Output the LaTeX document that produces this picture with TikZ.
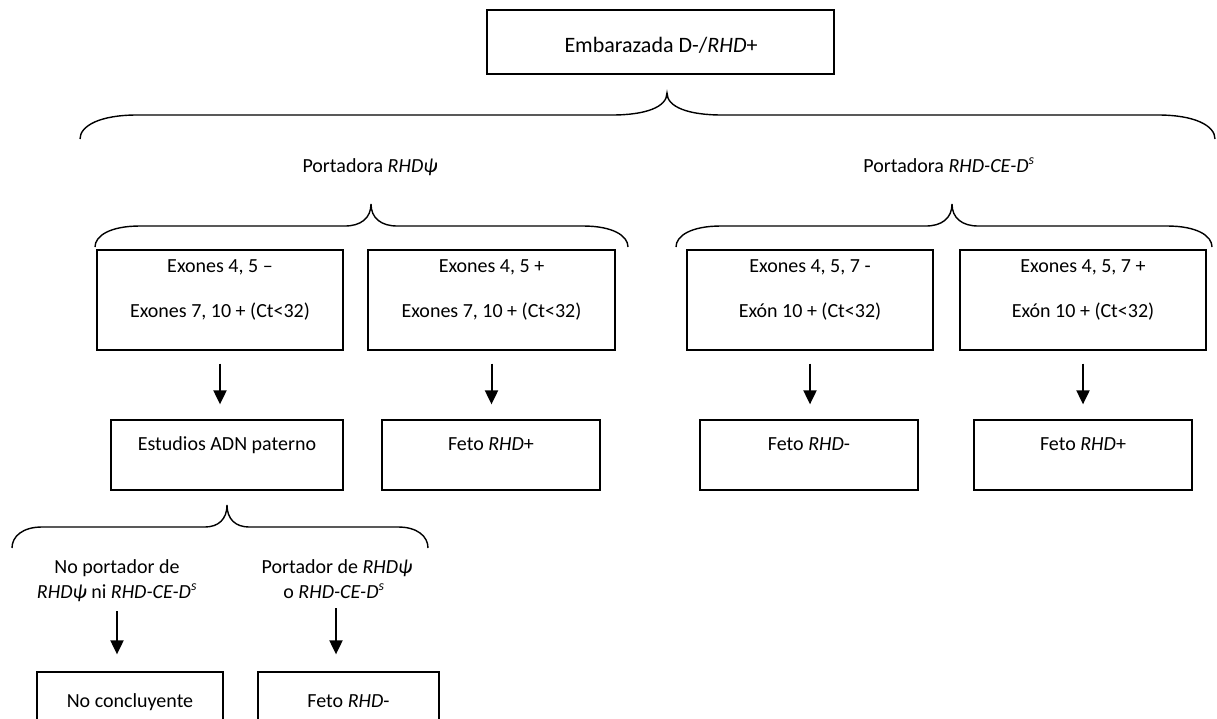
\documentclass[tikz,border=0pt]{standalone}
\usepackage{fontspec}
\setmainfont{Carlito}
\usetikzlibrary{arrows.meta,calc}

% Curly brace: left x, right x, tip x, tip y, line y, end y, end-curve width, tip-curve width
\newcommand\curlybrace[8]{%
  \draw[brace] (#1,#6) .. controls (#1,{#5+0.45*(#6-#5)}) and ({#1+0.35*#7},#5) .. ({#1+#7},#5)
    -- ({#3-#8},#5) .. controls ({#3-0.4*#8},#5) and (#3,{#5-0.35*(#5-#4)}) .. (#3,#4)
    .. controls (#3,{#5-0.35*(#5-#4)}) and ({#3+0.4*#8},#5) .. ({#3+#8},#5)
    -- ({#2-#7},#5) .. controls ({#2-0.35*#7},#5) and (#2,{#5+0.45*(#6-#5)}) .. (#2,#6);}

\begin{document}
\begin{tikzpicture}[x=1pt,y=-1pt,
  box/.style={draw, line width=1.3pt, rectangle, inner sep=0pt},
  txt/.style={inner sep=0pt, anchor=base, font=\fontsize{20}{24}\selectfont},
  bigtxt/.style={inner sep=0pt, anchor=base, font=\fontsize{22}{26}\selectfont},
  brace/.style={line width=1.4pt},
  arr/.style={line width=2pt, -{Triangle[width=13pt,length=14pt]}}]
\clip (0,0) rectangle (1217,718);
\fill[white] (0,0) rectangle (1217,718);

% root
\node[box, minimum width=347pt, minimum height=64pt] (root) at (660.5,42) {};
\node[bigtxt] (roott) at (661,52) {Embarazada D-/\textit{RHD}+};

% first split
\curlybrace{80}{1215}{667}{93}{115}{139}{57}{55}
\node[txt] (pa) at (370,172) {Portadora \textit{RHDψ}};
\node[txt] (pb) at (949,172) {Portadora \textit{RHD-CE-D\textsuperscript{s}}};

% second level
\curlybrace{95}{628}{371}{204}{226}{247}{45}{26}
\curlybrace{676}{1212}{952}{204}{226}{247}{45}{26}

\node[box, minimum width=246pt, minimum height=100pt] (b1) at (220,300) {};
\node[box, minimum width=247pt, minimum height=100pt] (b2) at (491.5,300) {};
\node[box, minimum width=246pt, minimum height=100pt] (b3) at (810,300) {};
\node[box, minimum width=246pt, minimum height=100pt] (b4) at (1083,300) {};

\node[txt] (b1a) at (220,272) {Exones 4, 5 –};
\node[txt] (b1b) at (220,317) {Exones 7, 10 + (Ct<32)};
\node[txt] (b2a) at (491.5,272) {Exones 4, 5 +};
\node[txt] (b2b) at (491.5,317) {Exones 7, 10 + (Ct<32)};
\node[txt] (b3a) at (810,272) {Exones 4, 5, 7 -};
\node[txt] (b3b) at (810,317) {Exón 10 + (Ct<32)};
\node[txt] (b4a) at (1083,272) {Exones 4, 5, 7 +};
\node[txt] (b4b) at (1083,317) {Exón 10 + (Ct<32)};

% results
\node[box, minimum width=232pt, minimum height=70pt] (r1) at (227,455) {};
\node[box, minimum width=218pt, minimum height=70pt] (r2) at (491,455) {};
\node[box, minimum width=218pt, minimum height=70pt] (r3) at (809,455) {};
\node[box, minimum width=218pt, minimum height=70pt] (r4) at (1083,455) {};
\node[txt] (r1t) at (227,450) {Estudios ADN paterno};
\node[txt] (r2t) at (491,450) {Feto \textit{RHD}+};
\node[txt] (r3t) at (809,450) {Feto \textit{RHD}-};
\node[txt] (r4t) at (1083,450) {Feto \textit{RHD}+};

\foreach \p/\c in {b1/r1,b2/r2,b3/r3,b4/r4}
  \draw[arr, shorten <=13pt, shorten >=15pt] (\p.south) -- (\p.south |- \c.north);

% paternal study split
\curlybrace{12}{428}{227}{505}{527}{548}{30}{22}
\node[txt] (l1a) at (117,573) {No portador de};
\node[txt] (l1b) at (117,598) {\textit{RHDψ} ni \textit{RHD-CE-D\textsuperscript{s}}};
\node[txt] (l2a) at (337,573) {Portador de \textit{RHDψ}};
\node[txt] (l2b) at (334,598) {o \textit{RHD-CE-D\textsuperscript{s}}};

\node[box, minimum width=186pt, minimum height=70pt] (f1) at (130,707) {};
\node[box, minimum width=181pt, minimum height=70pt] (f2) at (348.5,707) {};
\node[txt] (f1t) at (130,707) {No concluyente};
\node[txt] (f2t) at (348.5,707) {Feto \textit{RHD}-};

\draw[arr, shorten <=10pt, shorten >=17pt] (l1b.south) -- (l1b.south |- f1.north);
\draw[arr, shorten <=10pt, shorten >=17pt] ([xshift=2pt]l2b.south) -- ([xshift=2pt]l2b.south |- f2.north);
\end{tikzpicture}
\end{document}
